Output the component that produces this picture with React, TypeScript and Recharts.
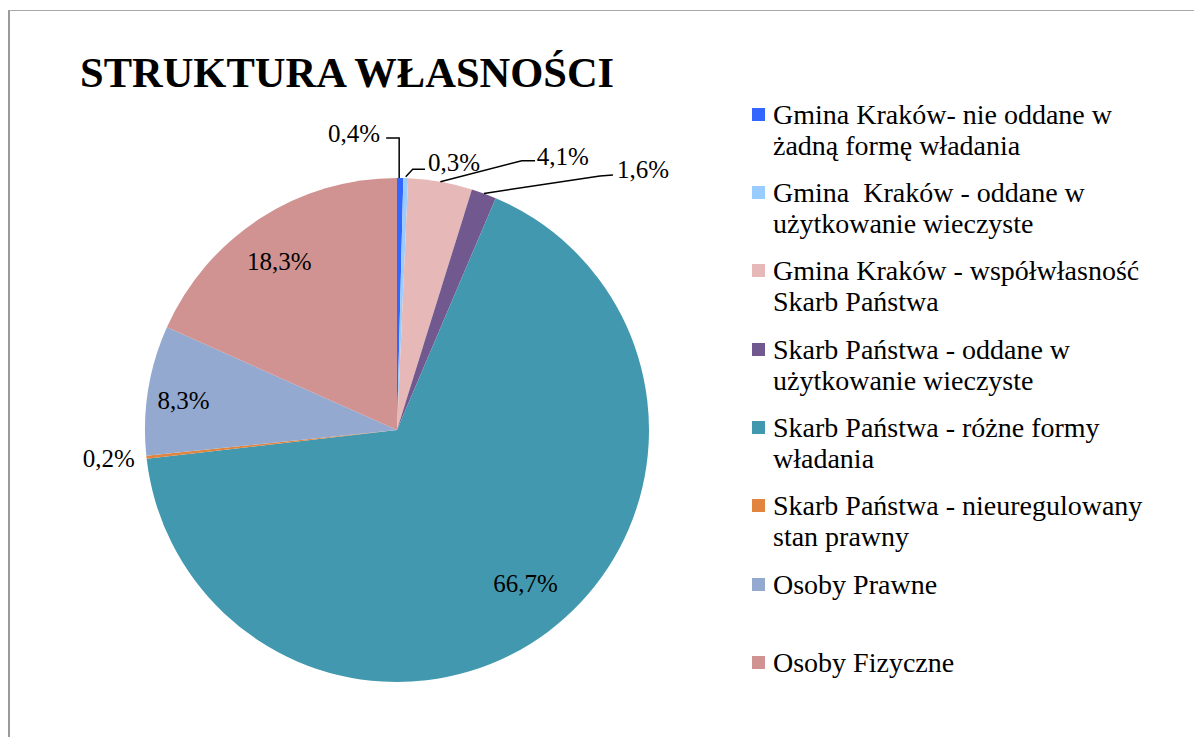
import React from "react";
import { PieChart, Pie, Cell, Legend } from "recharts";

const categories = [
  "Gmina Kraków- nie oddane w żadną formę władania",
  "Gmina  Kraków - oddane w użytkowanie wieczyste",
  "Gmina Kraków - współwłasność Skarb Państwa",
  "Skarb Państwa - oddane w użytkowanie wieczyste",
  "Skarb Państwa - różne formy władania",
  "Skarb Państwa - nieuregulowany stan prawny",
  "Osoby Prawne",
  "Osoby Fizyczne",
];

const shares = [0.4, 0.3, 4.1, 1.6, 66.7, 0.2, 8.3, 18.3];

const colors = [
  "#3366FF",
  "#99CCFF",
  "#E6B9B8",
  "#71588F",
  "#4298AF",
  "#E0843E",
  "#93A9CF",
  "#D09392",
];

const titleText = "STRUKTURA WŁASNOŚCI";

type LabelLayout = {
  mode: "inside" | "outside";
  line?: number[][] | null;
  dx: number;
  dy: number;
  anchor?: "start" | "end" | "middle";
};

const labelLayout: LabelLayout[] = [
  { mode: "outside", line: [[-1, 0], [-1, -40], [-14, -40]], dx: -20, dy: -44.7, anchor: "end" },
  { mode: "outside", line: [[0, -1.5], [7, -8.8], [19.3, -8.8]], dx: 22.3, dy: -16, anchor: "start" },
  { mode: "outside", line: [[0, 0], [81.4, -21.1], [94.7, -21.1]], dx: 96.4, dy: -25.1, anchor: "start" },
  { mode: "outside", line: [[0, 0], [116, -17.5], [129, -18.5]], dx: 133, dy: -23.5, anchor: "start" },
  { mode: "inside", dx: 8, dy: -7.7 },
  { mode: "outside", line: null, dx: -11.6, dy: 1, anchor: "end" },
  { mode: "inside", dx: -14.3, dy: 2.8 },
  { mode: "inside", dx: -7.9, dy: 0.4 },
];

const data = categories.map((name, i) => ({ name, value: shares[i], fill: colors[i] }));

const FONT = "'Liberation Serif', 'Times New Roman', serif";
const RAD = Math.PI / 180;

const fmt = (v: number) => v.toFixed(1).replace(".", ",") + "%";

const renderLabel = (props: any) => {
  const { cx, cy, midAngle, outerRadius, index, value } = props;
  const cfg = labelLayout[index];
  const cos = Math.cos(-midAngle * RAD);
  const sin = Math.sin(-midAngle * RAD);
  if (cfg.mode === "inside") {
    const r = outerRadius * 0.8;
    const x = cx + r * cos + cfg.dx;
    const y = cy + r * sin + cfg.dy;
    return (
      <text
        key={`l-${index}`}
        x={x}
        y={y}
        textAnchor="middle"
        dominantBaseline="central"
        fontFamily={FONT}
        fontSize={25}
        fill="#000"
      >
        {fmt(value)}
      </text>
    );
  }
  const ex = cx + outerRadius * cos;
  const ey = cy + outerRadius * sin;
  const pts = cfg.line ? cfg.line.map(([px, py]) => `${ex + px},${ey + py}`).join(" ") : null;
  return (
    <g key={`l-${index}`}>
      {pts && <polyline points={pts} fill="none" stroke="#000" strokeWidth={1.5} />}
      <text
        x={ex + cfg.dx}
        y={ey + cfg.dy}
        textAnchor={cfg.anchor}
        dominantBaseline="central"
        fontFamily={FONT}
        fontSize={25}
        fill="#000"
      >
        {fmt(value)}
      </text>
    </g>
  );
};

const renderLegend = () => (
  <div style={{ fontFamily: FONT, fontSize: 28, lineHeight: "31px", color: "#000" }}>
    {categories.map((name, i) => (
      <div key={name} style={{ display: "flex", height: 78.3, alignItems: "flex-start" }}>
        <div
          style={{
            width: 13,
            height: 13,
            marginTop: 9,
            background: colors[i],
            flex: "0 0 13px",
          }}
        />
        <div style={{ marginLeft: 8, width: 380, whiteSpace: "pre-wrap" }}>{name}</div>
      </div>
    ))}
  </div>
);

export default function App() {
  return (
    <div
      style={{
        position: "fixed",
        left: 0,
        top: 0,
        width: 1194,
        height: 737,
        overflow: "hidden",
        background: "#fff",
      }}
    >
      <div
        style={{
          position: "absolute",
          left: 8,
          top: 10,
          width: 1400,
          height: 1000,
          borderLeft: "2px solid #9a9a9a",
          borderTop: "1.5px solid #a8a8a8",
        }}
      />
      <div style={{ position: "absolute", left: 0, top: 0 }}>
        <PieChart width={1194} height={737} margin={{ top: 0, right: 0, bottom: 0, left: 0 }}>
          <Pie
            data={data}
            dataKey="value"
            nameKey="name"
            cx={397}
            cy={430}
            outerRadius={252}
            startAngle={90}
            endAngle={-270}
            stroke="none"
            label={renderLabel}
            labelLine={false}
            isAnimationActive={false}
          >
            {data.map((d, i) => (
              <Cell key={i} fill={colors[i]} stroke="none" />
            ))}
          </Pie>
          <Legend
            layout="vertical"
            align="right"
            verticalAlign="top"
            content={renderLegend}
            wrapperStyle={{ left: 752, top: 98.9, width: 420 }}
          />
        </PieChart>
      </div>
      <svg
        width={1194}
        height={120}
        style={{ position: "absolute", left: 0, top: 0, pointerEvents: "none" }}
      >
        <text x={80} y={87} fontFamily={FONT} fontSize={42.5} fontWeight="bold" fill="#000">
          {titleText}
        </text>
      </svg>
    </div>
  );
}
